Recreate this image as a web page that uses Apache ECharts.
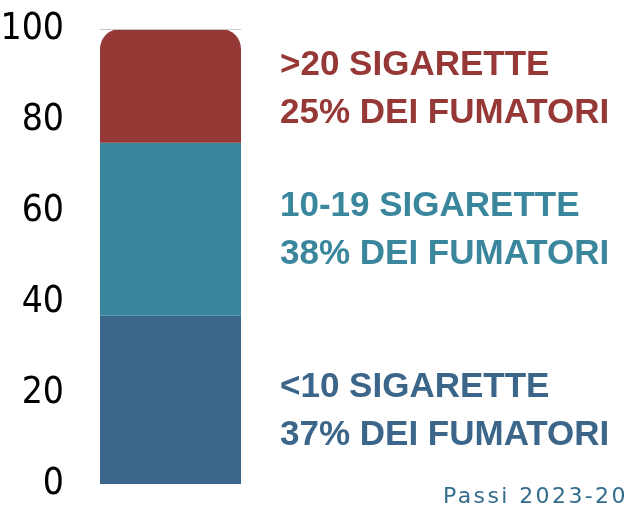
<!DOCTYPE html>
<html>
<head>
<meta charset="utf-8">
<script src="https://cdn.jsdelivr.net/npm/echarts@6/dist/echarts.min.js"></script>
<style>
  html, body { margin: 0; padding: 0; background: #fff; overflow: hidden; }
  #chart { width: 627px; height: 508px; position: relative; }
  #fonte {
    position: absolute; left: 443px; top: 485px; white-space: nowrap;
    font-family: 'DejaVu Sans', sans-serif; font-size: 22px; line-height: 22px;
    letter-spacing: 2.4px; color: #336c8c;
  }
</style>
</head>
<body>
<div id="chart"></div>
<div id="fonte">Passi 2023-2024</div>
<script>
  // dati
  var categorie = ['Fumatori'];
  var fasce = ['<10 SIGARETTE', '10-19 SIGARETTE', '>20 SIGARETTE'];
  var valori = [37, 38, 25];
  var colori = ['#3b6689', '#3a869c', '#963836'];
  var yTicks = [0, 20, 40, 60, 80, 100];

  // spostamento verticale delle etichette (px)
  var offsetY = [12, 1, 3];

  var chart = echarts.init(document.getElementById('chart'));

  var series = fasce.map(function (nome, i) {
    var top = i === fasce.length - 1;
    var s = {
      name: nome,
      type: 'bar',
      stack: 'tot',
      barWidth: '100%',
      data: [valori[i]],
      itemStyle: {
        color: colori[i],
        borderRadius: top ? [20, 20, 0, 0] : 0
      },
      label: {
        show: true,
        position: 'right',
        distance: 39,
        offset: [0, offsetY[i]],
        align: 'left',
        color: colori[i],
        fontFamily: "'Liberation Sans', Arial, sans-serif",
        fontWeight: 'bold',
        fontSize: 35,
        lineHeight: 48,
        formatter: function () {
          return nome + '\n' + valori[i] + '% DEI FUMATORI';
        }
      }
    };
    if (top) {
      s.markLine = {
        silent: true,
        symbol: 'none',
        label: { show: false },
        lineStyle: { color: '#c8c8c8', type: 'solid', width: 1 },
        data: [{ yAxis: yTicks[yTicks.length - 1] }]
      };
    }
    return s;
  });

  var option = {
    animation: false,
    grid: { left: 100, right: 386, top: 29, bottom: 24, outerBoundsMode: 'none', containLabel: false },
    xAxis: {
      type: 'category',
      data: categorie,
      show: false
    },
    yAxis: {
      type: 'value',
      min: yTicks[0],
      max: yTicks[yTicks.length - 1],
      interval: 20,
      axisLine: { show: false },
      axisTick: { show: false },
      splitLine: { show: false },
      axisLabel: {
        margin: 36,
        color: '#000',
        fontSize: 37,
        fontFamily: "'Liberation Sans Narrow', 'DejaVu Sans Condensed', sans-serif"
      }
    },
    series: series
  };

  option && chart.setOption(option);
</script>
</body>
</html>
